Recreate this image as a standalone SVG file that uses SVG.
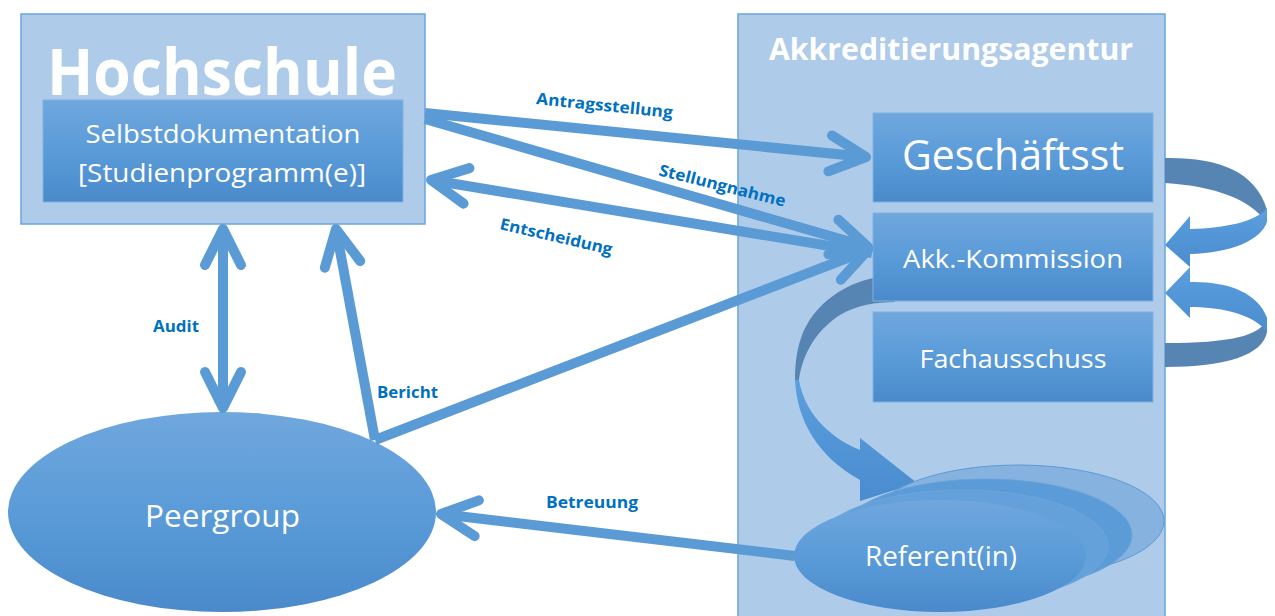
<svg xmlns="http://www.w3.org/2000/svg" width="1275" height="616" viewBox="0 0 1275 616">
<style>
.cont{fill:#aecbea;stroke:#6aa5dc;stroke-width:1.5}
.box{fill:url(#gb);stroke:#7fb2e2;stroke-width:1}
.wt{fill:#fff;font-family:"Open Sans","Liberation Sans",sans-serif;text-anchor:middle}
.lb{fill:#0070c0;font-family:"Open Sans","Liberation Sans",sans-serif;font-weight:bold;font-size:16px;text-anchor:middle}
.cn{fill:none;stroke:#5b9bd5;stroke-width:10}
.dark{fill:#5785b3}
.light{fill:url(#gl)}
</style>
<defs>
<linearGradient id="gb" x1="0" y1="0" x2="0" y2="1">
<stop offset="0" stop-color="#70a7dd"/><stop offset="0.5" stop-color="#5a9bd8"/><stop offset="1" stop-color="#4a8acb"/>
</linearGradient>
<linearGradient id="gl" x1="0" y1="0" x2="0" y2="1">
<stop offset="0" stop-color="#5b9fde"/><stop offset="1" stop-color="#4a8ccf"/>
</linearGradient>
<marker id="ah" markerUnits="userSpaceOnUse" viewBox="-50 -30 60 60" refX="0" refY="0" markerWidth="60" markerHeight="60" orient="auto-start-reverse" overflow="visible">
<path d="M-36,-18 L0,0 L-36,18" fill="none" stroke="#5b9bd5" stroke-width="10" stroke-linecap="round" stroke-linejoin="round"/>
</marker>
</defs>

<g id="hochschule">
<rect class="cont" x="21" y="14" width="404" height="210"/>
<text class="wt" x="222" y="95" font-size="64" font-weight="bold" textLength="350" lengthAdjust="spacingAndGlyphs">Hochschule</text>
</g>
<g id="selbstdokumentation">
<rect class="box" x="43" y="100" width="360" height="102"/>
<text class="wt" x="223" y="143" font-size="26" textLength="275" lengthAdjust="spacingAndGlyphs">Selbstdokumentation</text>
<text class="wt" x="222" y="182" font-size="26" textLength="288" lengthAdjust="spacingAndGlyphs">[Studienprogramm(e)]</text>
</g>

<g id="akkreditierungsagentur">
<rect class="cont" x="738" y="14" width="427" height="612"/>
<text class="wt" x="951" y="60" font-size="30" font-weight="bold" textLength="364" lengthAdjust="spacingAndGlyphs">Akkreditierungsagentur</text>
</g>

<g id="curve-kommission-referent">
<path class="dark" d="M885,276 C848,280 813,303 801,338 C796,353 795,367 795,380 L799,380 C802,356 815,331 840,315 C857,305 876,302 895,302 Z"/>
<path class="light" d="M795,380 C797,420 817,456 860,480 L860,501 L917,483 L860,438 L860,450 C826,436 804,410 799,380 Z"/>
</g>

<g id="geschaeftsst">
<rect class="box" x="873" y="113" width="280" height="89"/>
<text class="wt" x="1013" y="170" font-size="42" textLength="222" lengthAdjust="spacingAndGlyphs">Geschäftsst</text>
</g>
<g id="akk-kommission">
<rect class="box" x="873" y="213" width="280" height="88"/>
<text class="wt" x="1013" y="268" font-size="26" textLength="220" lengthAdjust="spacingAndGlyphs">Akk.-Kommission</text>
</g>
<g id="fachausschuss">
<rect class="box" x="873" y="312" width="280" height="90"/>
<text class="wt" x="1013" y="368" font-size="26" textLength="187" lengthAdjust="spacingAndGlyphs">Fachausschuss</text>
</g>

<g id="curve-geschaeftsst-kommission">
<path class="dark" d="M1165,158 C1215,157 1256,170 1267,210 L1265,221 C1251,200 1215,186 1165,183 Z"/>
<path class="light" d="M1267,208 C1256,222 1225,228 1190,229 L1190,216 L1165,245 L1190,267 L1190,254 C1231,253 1261,240 1267,222 Z"/>
</g>
<g id="curve-fachausschuss-kommission">
<path class="dark" d="M1267,318 C1262,336 1230,343 1165,343 L1165,367 C1226,367 1263,355 1267,332 Z"/>
<path class="light" d="M1190,282 C1226,281 1258,292 1267,318 L1267,332 C1255,316 1226,307 1190,307 L1190,318 L1165,293 L1190,267 Z"/>
</g>

<g id="referent">
<ellipse cx="1018" cy="521" rx="146" ry="56" fill="#86b2df" stroke="#5b9bd5" stroke-width="1"/>
<ellipse cx="986" cy="535" rx="146" ry="56" fill="#5b9bd7" stroke="#6aa3da" stroke-width="1"/>
<ellipse cx="962" cy="546" rx="146" ry="56" fill="#64a0d9" stroke="#6ea6db" stroke-width="1"/>
<ellipse cx="940" cy="556" rx="146" ry="56" fill="url(#gb)"/>
<text class="wt" x="941" y="566" font-size="27" textLength="152" lengthAdjust="spacingAndGlyphs">Referent(in)</text>
</g>

<g id="peergroup">
<ellipse cx="222" cy="512" rx="214" ry="100" fill="url(#gb)"/>
<text class="wt" x="222.5" y="527" font-size="31" textLength="155" lengthAdjust="spacingAndGlyphs">Peergroup</text>
</g>

<g id="connectors">
<path class="cn" d="M425,113 L866,157" marker-end="url(#ah)"/>
<path class="cn" d="M425,119 L868,247" marker-end="url(#ah)"/>
<path class="cn" d="M872,253 L431,180" marker-end="url(#ah)"/>
<path class="cn" d="M375,440 L868,250" marker-end="url(#ah)"/>
<path class="cn" d="M375,440 L336,229" marker-end="url(#ah)"/>
<path class="cn" d="M223,229 L223,408" marker-start="url(#ah)" marker-end="url(#ah)"/>
<path class="cn" d="M795,556 L441,514" marker-end="url(#ah)"/>
<text class="lb" x="604" y="111" transform="rotate(5.8 604 111)" textLength="137" lengthAdjust="spacingAndGlyphs">Antragsstellung</text>
<text class="lb" x="721" y="191" transform="rotate(14 721 191)" textLength="130" lengthAdjust="spacingAndGlyphs">Stellungnahme</text>
<text class="lb" x="555" y="242" transform="rotate(13 555 242)" textLength="115" lengthAdjust="spacingAndGlyphs">Entscheidung</text>
<text class="lb" x="176" y="332" textLength="46" lengthAdjust="spacingAndGlyphs">Audit</text>
<text class="lb" x="407.5" y="398" textLength="61" lengthAdjust="spacingAndGlyphs">Bericht</text>
<text class="lb" x="592" y="508" textLength="92" lengthAdjust="spacingAndGlyphs">Betreuung</text>
</g>
</svg>
